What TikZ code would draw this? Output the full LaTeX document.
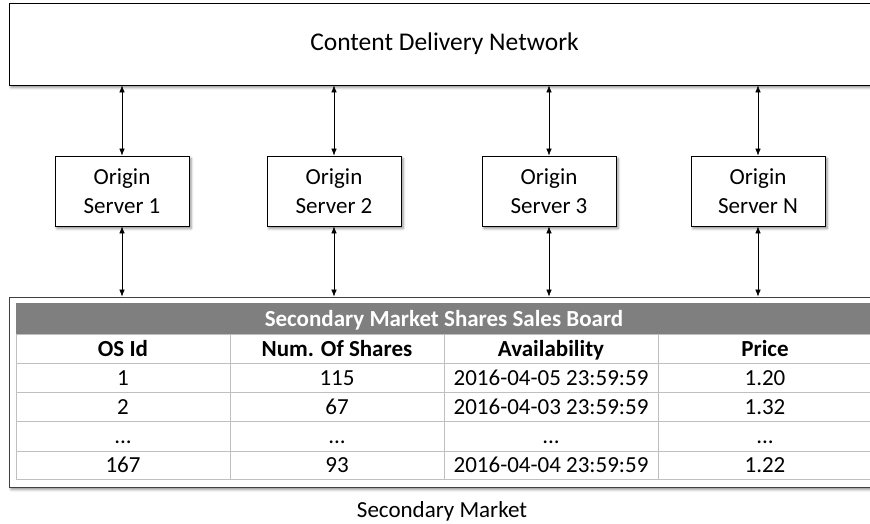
\documentclass[tikz,border=0pt]{standalone}
\usepackage{fontspec}
\setmainfont{Carlito}
\usetikzlibrary{arrows.meta,shadows,shadows.blur}
\definecolor{boardgray}{HTML}{7F7F7F}
\definecolor{gridgray}{HTML}{BFBFBF}
\definecolor{framegray}{HTML}{404040}
\tikzset{
  softshadow/.style={blur shadow={shadow xshift=2pt,shadow yshift=-2.5pt,shadow blur radius=2.5pt,shadow opacity=45}},
  netbox/.style={draw,fill=white,line width=0.8pt,softshadow},
  srvbox/.style={netbox,minimum width=134pt,minimum height=70pt,align=center,font=\fontsize{23}{29}\selectfont},
  link/.style={{Latex[length=7pt,width=5.5pt]}-{Latex[length=7pt,width=5.5pt]},line width=0.6pt},
  cell/.style={anchor=base,inner sep=0pt,font=\fontsize{23}{28}\selectfont},
  hcell/.style={cell,font=\fontsize{23}{28}\selectfont\bfseries},
}

\begin{document}
\begin{tikzpicture}[x=1pt,y=-1pt]
\clip (0,0) rectangle (870,524);
% \draw[help lines,step=50] (0,0) grid (870,524);
\node (cdn) [netbox,minimum width=871pt,minimum height=82pt,font=\fontsize{25.5}{30}\selectfont] at (444.5,44) {Content Delivery Network};
%
\node (o1) [srvbox] at (122,191) {Origin\\Server 1};
\node (o2) [srvbox] at (334,191) {Origin\\Server 2};
\node (o3) [srvbox] at (549,191) {Origin\\Server 3};
\node (on) [srvbox] at (758,191) {Origin\\Server N};
%
\node (board) [netbox,draw=framegray,minimum width=871pt,minimum height=190pt] at (444.5,392) {};
\fill[boardgray] (16,303) rectangle (880,334);
\node (title) [hcell,text=white] at (444,326) {Secondary Market Shares Sales Board};
% grid of the sales board
\draw[gridgray,line width=0.8pt] (16,334) -- (880,334) (16,363) -- (880,363) (16,392) -- (880,392)
  (16,421) -- (880,421) (16,451) -- (880,451) (16,479) -- (880,479);
\draw[gridgray,line width=0.8pt] (16,334) -- (16,479) (230,334) -- (230,479) (444,334) -- (444,479)
  (658,334) -- (658,479) (872,334) -- (872,479);
% header row
\node (h1) [hcell] at (123,356) {OS Id};
\node (h2) [hcell] at (337,356) {Num. Of Shares};
\node (h3) [hcell] at (551,356) {Availability};
\node (h4) [hcell] at (765,356) {Price};
% rows
\node (r1a) [cell] at (123,385) {1};
\node (r1b) [cell] at (337,385) {115};
\node (r1c) [cell] at (551,385) {2016-04-05 23:59:59};
\node (r1d) [cell] at (765,385) {1.20};
\node (r2a) [cell] at (123,414) {2};
\node (r2b) [cell] at (337,414) {67};
\node (r2c) [cell] at (551,414) {2016-04-03 23:59:59};
\node (r2d) [cell] at (765,414) {1.32};
\node (r3a) [cell] at (123,443) {...};
\node (r3b) [cell] at (337,443) {...};
\node (r3c) [cell] at (551,443) {...};
\node (r3d) [cell] at (765,443) {...};
\node (r4a) [cell] at (123,472) {167};
\node (r4b) [cell] at (337,472) {93};
\node (r4c) [cell] at (551,472) {2016-04-04 23:59:59};
\node (r4d) [cell] at (765,472) {1.22};
%
\node (mkt) [cell] at (442,517) {Secondary Market};
%
\draw[link] (cdn.south -| o1.north) -- (o1.north);
\draw[link] (cdn.south -| o2.north) -- (o2.north);
\draw[link] (cdn.south -| o3.north) -- (o3.north);
\draw[link] (cdn.south -| on.north) -- (on.north);
\draw[link] (o1.south) -- (o1.south |- board.north);
\draw[link] (o2.south) -- (o2.south |- board.north);
\draw[link] (o3.south) -- (o3.south |- board.north);
\draw[link] (on.south) -- (on.south |- board.north);
\end{tikzpicture}
\end{document}
